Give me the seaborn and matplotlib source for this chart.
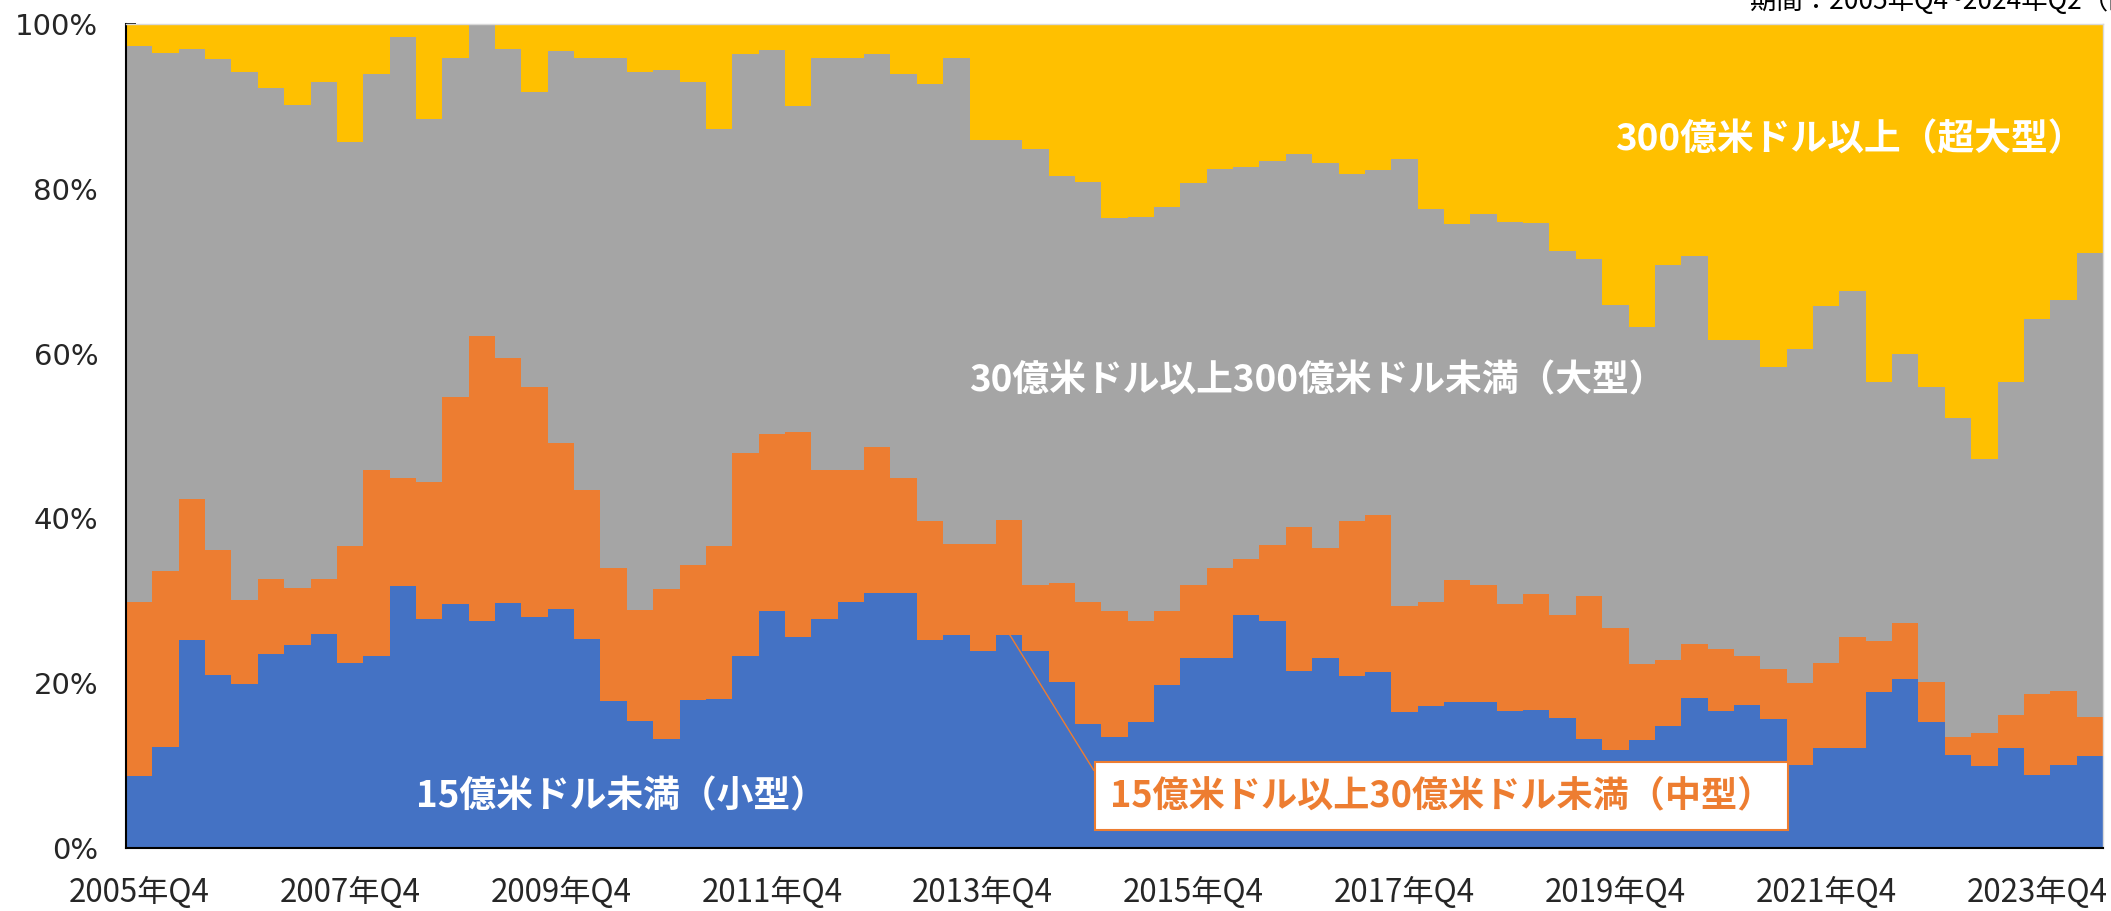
import matplotlib
matplotlib.use("Agg")
import matplotlib.pyplot as plt
import seaborn as sns
import numpy as np
import pandas as pd

# share of deals by size class (%), 2005Q4 .. 2024Q2
small = [8.7, 12.2, 25.2, 21.0, 19.9, 23.5, 24.6, 26.0, 22.5, 23.3,
         31.8, 27.8, 29.6, 27.6, 29.7, 28.0, 29.0, 25.4, 17.8, 15.4,
         13.2, 17.9, 18.1, 23.3, 28.8, 25.6, 27.8, 29.9, 30.9, 30.9,
         25.2, 25.9, 23.9, 25.9, 23.9, 20.2, 15.0, 13.5, 15.3, 19.8,
         23.0, 23.0, 28.3, 27.5, 21.5, 23.0, 20.9, 21.3, 16.5, 17.2,
         17.7, 17.7, 16.6, 16.8, 15.8, 13.2, 11.9, 13.1, 14.8, 18.2,
         16.6, 17.3, 15.6, 10.1, 12.1, 12.1, 18.9, 20.5, 15.3, 11.3,
         9.9, 12.1, 8.8, 10.1, 11.1]
mid = [21.1, 21.4, 17.1, 15.1, 10.2, 9.2, 6.9, 6.6, 14.2, 22.6,
       13.1, 16.6, 25.1, 34.5, 29.8, 27.9, 20.2, 18.0, 16.2, 13.5,
       18.2, 16.4, 18.5, 24.6, 21.4, 24.9, 18.1, 16.0, 17.8, 14.0,
       14.5, 11.0, 13.0, 13.9, 8.0, 11.9, 14.9, 15.2, 12.3, 9.0,
       8.9, 11.0, 6.8, 9.3, 17.5, 13.4, 18.8, 19.1, 12.9, 12.7,
       14.8, 14.2, 13.0, 14.0, 12.5, 17.4, 14.8, 9.2, 8.0, 6.5,
       7.5, 6.0, 6.1, 9.9, 10.4, 13.5, 6.2, 6.8, 4.8, 2.2,
       4.1, 4.0, 9.9, 9.0, 4.8]
large = [67.5, 62.9, 54.7, 59.6, 64.1, 59.5, 58.7, 60.3, 49.0, 48.0,
         53.5, 44.1, 41.2, 37.9, 37.5, 35.8, 47.5, 52.5, 61.9, 65.3,
         63.0, 58.6, 50.7, 48.4, 46.7, 39.6, 50.0, 50.0, 47.6, 49.0,
         53.0, 59.0, 49.0, 46.1, 52.9, 49.4, 50.9, 47.7, 49.0, 49.0,
         48.8, 48.4, 47.5, 46.6, 45.2, 46.7, 42.1, 41.9, 54.2, 47.6,
         43.2, 45.0, 46.4, 45.0, 44.2, 40.9, 39.2, 40.9, 48.0, 47.2,
         37.6, 38.4, 36.7, 40.6, 43.3, 42.0, 31.4, 32.7, 35.8, 38.7,
         33.2, 40.4, 45.5, 47.4, 56.3]
mega = [2.7, 3.5, 3.0, 4.3, 5.8, 7.8, 9.8, 7.1, 14.3, 6.1,
        1.6, 11.5, 4.1, 0.0, 3.0, 8.3, 3.3, 4.1, 4.1, 5.8,
        5.6, 7.1, 12.7, 3.7, 3.1, 9.9, 4.1, 4.1, 3.7, 6.1,
        7.3, 4.1, 14.1, 14.1, 15.2, 18.5, 19.2, 23.6, 23.4, 22.2,
        19.3, 17.6, 17.4, 16.6, 15.8, 16.9, 18.2, 17.7, 16.4, 22.5,
        24.3, 23.1, 24.0, 24.2, 27.5, 28.5, 34.1, 36.8, 29.2, 28.1,
        38.3, 38.3, 41.6, 39.4, 34.2, 32.4, 43.5, 40.0, 44.1, 47.8,
        52.8, 43.5, 35.8, 33.5, 27.8]

quarters = []
yr, q = 2005, 4
while len(quarters) < len(small):
    quarters.append(f"{yr}年Q{q}")
    q += 1
    if q > 4:
        q, yr = 1, yr + 1

df = pd.DataFrame({"quarter": quarters, "small": small, "mid": mid,
                   "large": large, "mega": mega})
df["c1"] = df["small"]
df["c2"] = df["c1"] + df["mid"]
df["c3"] = df["c2"] + df["large"]
df["c4"] = df["c3"] + df["mega"]

sns.set_theme(style="white")
plt.rcParams["font.family"] = ["Noto Sans CJK JP", "DejaVu Sans"]

fig = plt.figure(figsize=(21.11, 9.11), dpi=100)
ax = fig.add_axes([0.0597, 0.0692, 0.9365, 0.9045])

layers = [("c4", "#FFC000"), ("c3", "#A5A5A5"), ("c2", "#ED7D31"), ("c1", "#4472C4")]
for col, color in layers:
    sns.barplot(data=df, x="quarter", y=col, order=quarters, color=color,
                saturation=1, width=1, linewidth=0, errorbar=None, ax=ax)

ax.set_xlim(-0.5, len(quarters) - 0.5)
ax.set_ylim(0, 100)
ax.set_xlabel("")
ax.set_ylabel("")

# tick marks between categories every 4 quarters, labels every 8 quarters
ax.set_xticks(np.arange(-0.5, len(quarters) - 1, 4), labels=[])
lab_pos = list(range(0, len(quarters), 8))
ax.set_xticks(lab_pos, labels=[quarters[i] for i in lab_pos], minor=True)
ax.tick_params(axis="x", which="major", direction="in", length=7, width=1.3,
               color="black", bottom=True)
ax.tick_params(axis="x", which="minor", length=0, pad=21, labelsize=22.5)

ax.set_yticks(range(0, 101, 20))
ax.set_yticklabels([f"{v}%" for v in range(0, 101, 20)],
                   fontdict={"family": "DejaVu Sans"})
ax.tick_params(axis="y", direction="in", length=7, width=1.3, color="black",
               left=True, pad=20, labelsize=21)

for s in ["left", "bottom"]:
    ax.spines[s].set_color("black")
    ax.spines[s].set_linewidth(1.5)
for s in ["top", "right"]:
    ax.spines[s].set_color("#D9D9D9")
    ax.spines[s].set_linewidth(1)

lab_kw = dict(color="white", fontsize=26.5, fontweight="bold", ha="center", va="center")
ax.text(64.9, 86.0, "300億米ドル以上（超大型）", **lab_kw)
ax.text(44.7, 56.7, "30億米ドル以上300億米ドル未満（大型）", **lab_kw)
ax.text(18.3, 6.2, "15億米ドル未満（小型）", **lab_kw)

ax.annotate("15億米ドル以上30億米ドル未満（中型）", xy=(33, 26.0), xytext=(49.4, 6.3),
            textcoords="data", ha="center", va="center", color="#ED7D31",
            fontsize=26, fontweight="bold",
            bbox=dict(boxstyle="square,pad=0.42", fc="white", ec="#ED7D31", lw=1.5),
            arrowprops=dict(arrowstyle="-", color="#ED7D31", lw=1,
                            relpos=(0, 0.5), shrinkA=0, shrinkB=0))

fig.text(0.829, 0.990, "期間：2005年Q4~2024年Q2（四半期）", fontsize=19,
         ha="left", va="baseline", color="black")

fig.savefig("out.png", dpi=100)
plt.close(fig)
